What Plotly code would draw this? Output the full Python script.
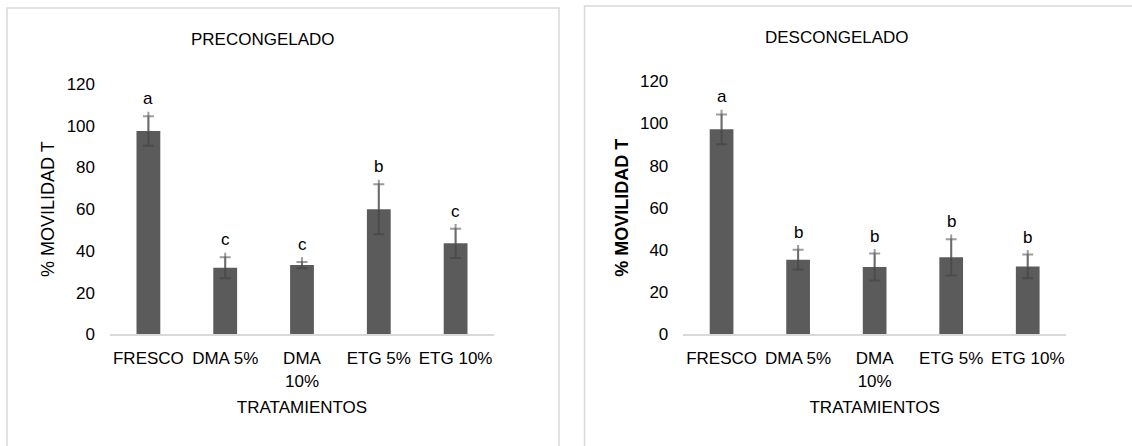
import plotly.graph_objects as go

# Sperm motility by treatment, before and after thawing
categorias = ["FRESCO", "DMA 5%", "DMA 10%", "ETG 5%", "ETG 10%"]
etiquetas_x = ["FRESCO", "DMA 5%", "DMA<br>10%", "ETG 5%", "ETG 10%"]

pre_media = [97.4, 31.9, 33.2, 59.9, 43.6]
pre_error = [7.1, 5.0, 1.5, 12.0, 7.0]
pre_letras = ["a", "c", "c", "b", "c"]

des_media = [97.2, 35.4, 31.9, 36.5, 32.2]
des_error = [7.1, 4.7, 6.4, 8.6, 5.6]
des_letras = ["a", "b", "b", "b", "b"]

W, H = 1132, 446
FONT = "Liberation Sans, Arial, sans-serif"
BAR = "#5b5b5b"
ERR = "rgba(60,60,60,0.5)"
OVERSHOOT = 2.2  # whisker stem runs a little past the cap


def px(x):
    return x / W


def py(y):
    return 1 - y / H


fig = go.Figure()

paneles = [
    ("x", "y", pre_media, pre_error, pre_letras),
    ("x2", "y2", des_media, des_error, des_letras),
]

for xa, ya, media, err, letras in paneles:
    fig.add_trace(go.Bar(
        x=categorias, y=media, xaxis=xa, yaxis=ya,
        width=0.31, marker=dict(color=BAR, line=dict(width=0)),
        error_y=dict(type="data", array=err, symmetric=True,
                     color=ERR, thickness=2, width=5.5),
        showlegend=False, hoverinfo="x+y",
    ))
    fig.add_trace(go.Scatter(
        x=categorias, y=media, xaxis=xa, yaxis=ya, mode="markers",
        marker=dict(size=1, opacity=0),
        error_y=dict(type="data", array=[e + OVERSHOOT for e in err],
                     arrayminus=[0] * len(err), color=ERR, thickness=2, width=0),
        showlegend=False, hoverinfo="skip",
    ))
    for c, m, e, l in zip(categorias, media, err, letras):
        fig.add_annotation(
            x=c, y=m + e, xref=xa, yref=ya, text=l, showarrow=False,
            yanchor="bottom", yshift=6,
            font=dict(family=FONT, size=17, color="#000000"),
        )

eje_x = dict(
    type="category", categoryorder="array", categoryarray=categorias,
    tickmode="array", tickvals=categorias, ticktext=etiquetas_x,
    showline=True, linecolor="#d9d9d9", linewidth=1.5,
    showgrid=False, zeroline=False, ticks="", ticklabelstandoff=8,
    tickfont=dict(family=FONT, size=17, color="#000000"),
    title=dict(text="TRATAMIENTOS", standoff=12,
               font=dict(family=FONT, size=17, color="#000000")),
    automargin=False, fixedrange=True,
)
eje_y = dict(
    range=[0, 120], tickvals=[0, 20, 40, 60, 80, 100, 120],
    showline=False, showgrid=False, zeroline=False, ticks="",
    ticklabelstandoff=14,
    tickfont=dict(family=FONT, size=17, color="#000000"),
    automargin=False, fixedrange=True,
)

fig.update_layout(
    width=W, height=H, autosize=False,
    margin=dict(l=0, r=0, t=0, b=0, pad=0),
    paper_bgcolor="white", plot_bgcolor="white",
    bargap=0.69,
    xaxis=dict(eje_x, domain=[px(110), px(494)], anchor="y"),
    yaxis=dict(eje_y, domain=[py(334.3), py(83.9)], anchor="x",
               title=dict(text="% MOVILIDAD T", standoff=7,
                          font=dict(family=FONT, size=18, color="#000000"))),
    xaxis2=dict(eje_x, domain=[px(683.3), px(1066)], anchor="y2"),
    yaxis2=dict(eje_y, domain=[py(334.3), py(81.3)], anchor="x2",
                title=dict(text="<b>% MOVILIDAD T</b>", standoff=6,
                           font=dict(family=FONT, size=18, color="#000000"))),
)

# Chart titles
fig.add_annotation(x=px(263), y=py(39), xref="paper", yref="paper",
                   text="PRECONGELADO", showarrow=False,
                   xanchor="center", yanchor="middle",
                   font=dict(family=FONT, size=17, color="#000000"))
fig.add_annotation(x=px(836.7), y=py(37.7), xref="paper", yref="paper",
                   text="DESCONGELADO", showarrow=False,
                   xanchor="center", yanchor="middle",
                   font=dict(family=FONT, size=17, color="#000000"))

# Chart-area frames
for x0, x1, y0 in [(7, 559, 8), (584.5, 1145, 6)]:
    fig.add_shape(type="rect", xref="paper", yref="paper",
                  x0=px(x0), x1=px(x1), y0=py(y0), y1=py(470),
                  line=dict(color="#d9d9d9", width=1.5), fillcolor="rgba(0,0,0,0)",
                  layer="below")

fig.write_html("out.html")
